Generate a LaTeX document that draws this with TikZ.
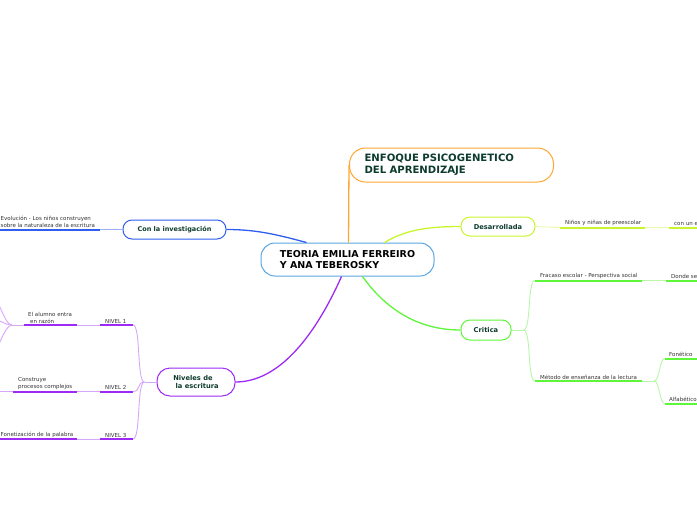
\documentclass[tikz,border=0pt]{standalone}
\usepackage{fontspec}
\setmainfont{DejaVu Sans}
\definecolor{nodetxt}{HTML}{0D3B2E}
\definecolor{leaftxt}{HTML}{333333}
\definecolor{mainblue}{HTML}{5AA5E0}
\definecolor{invblue}{HTML}{2F5EF0}
\definecolor{invlight}{HTML}{9DB3F7}
\definecolor{enforange}{HTML}{FFA630}
\definecolor{desayellow}{HTML}{C9F52F}
\definecolor{desalight}{HTML}{E6FAAA}
\definecolor{crgreen}{HTML}{5EF53A}
\definecolor{crlight}{HTML}{B8F7A8}
\definecolor{nivpurple}{HTML}{9D2BF5}
\definecolor{nivlight}{HTML}{D6A8FA}
\tikzset{
  topic/.style={draw, fill=white, line width=1pt, rounded corners=9pt, align=center,
    text=nodetxt, inner sep=0pt, font=\bfseries\fontsize{6.7}{8}\selectfont},
  leaf/.style={anchor=south west, inner xsep=5pt, inner ysep=1.5pt, align=left,
    text=leaftxt, font=\fontsize{5.5}{7}\selectfont},
  uline/.style={line width=2pt},
  link/.style={line width=0.9pt},
  branch/.style={line width=1.3pt}
}
\begin{document}
\begin{tikzpicture}[x=1pt, y=-1pt]
  \useasboundingbox (0,0) rectangle (697,520);
  % topics
  \node[topic, draw=mainblue, minimum width=173pt, minimum height=33pt, rounded corners=14pt,
    text=black, align=left, font=\bfseries\fontsize{9.5}{11.5}\selectfont] (main) at (347.5,259.5)
    {TEORIA EMILIA FERREIRO\\Y ANA TEBEROSKY};
  \node[topic, draw=enforange, anchor=west, minimum height=34pt, rounded corners=16pt,
    text width=174pt, inner xsep=15pt, align=left, font=\bfseries\fontsize{10.1}{12}\selectfont]
    (enf) at (349,165) {ENFOQUE PSICOGENETICO\\DEL APRENDIZAJE};
  \node[topic, draw=invblue, minimum width=103pt, minimum height=19pt,
    font=\bfseries\fontsize{6.5}{8}\selectfont] (inv) at (174.5,229.5) {Con la investigación};
  \node[topic, draw=desayellow, minimum width=74pt, minimum height=19pt] (desa) at (498,226.5) {Desarrollada};
  \node[topic, draw=crgreen, minimum width=50pt, minimum height=20pt] (crit) at (486,330) {Critica};
  \node[topic, draw=nivpurple, minimum width=78pt, minimum height=28pt, rounded corners=13pt,
    align=left] (niv) at (196,382) {Niveles de\\\ la escritura};

  % from the centre
  \draw[branch, enforange] ([xshift=1pt]main.north) -- (enf.west);
  \draw[branch, invblue] (inv.east) .. controls +(30,0) and +(-30,-8) .. ([xshift=-41pt]main.north);
  \draw[branch, desayellow] ([xshift=37pt]main.north) .. controls +(20,-12) and +(-35,0) .. (desa.west);
  \draw[branch, crgreen] ([xshift=15pt]main.south) .. controls +(25,35) and +(-40,0) .. (crit.west);
  \draw[branch, nivpurple] ([xshift=-6pt]main.south) .. controls +(-20,45) and +(50,0) .. (niv.east);

  % Con la investigacion
  \node[leaf, inner xsep=0.5pt] (evol) at (0,229.5)
    {Evolución - Los niños construyen\\sobre la naturaleza de la escritura};
  \draw[uline, invblue] (evol.south west) -- ++(100,0) coordinate (evol-e);
  \draw[link, invlight] (inv.west) -- (evol-e);

  % Desarrollada
  \node[leaf] (nin) at (560,227.5) {Niños y niñas de preescolar};
  \draw[uline, desayellow] (nin.south west) -- ++(85,0) coordinate (nin-e);
  \node[leaf] (conun) at (669,227.5) {con un e};
  \draw[uline, desayellow] (conun.south west) -- ++(35,0);
  \draw[link, desalight] (desa.east) -- (nin.south west);
  \draw[link, desalight] (nin-e) -- (conun.south west);

  % Critica
  \draw[link, crlight] (crit.east) -- ++(12,0) coordinate (crhub);
  \node[leaf] (fra) at (535,280.5) {Fracaso escolar - Perspectiva social};
  \draw[uline, crgreen] (fra.south west) -- ++(107,0) coordinate (fra-e);
  \node[leaf] (donde) at (666,280.5) {Donde se};
  \draw[uline, crgreen] (donde.south west) -- ++(35,0);
  \draw[link, crlight] (fra-e) -- (donde.south west);
  \node[leaf] (met) at (535,381) {Método de enseñanza de la lectura};
  \draw[uline, crgreen] (met.south west) -- ++(107,0) coordinate (met-e);
  \draw[link, crlight] (crhub) .. controls +(8,0) and +(-8,0) .. (fra.south west);
  \draw[link, crlight] (crhub) .. controls +(8,0) and +(-8,0) .. (met.south west);
  \draw[link, crlight] (met-e) -- ++(12,0) coordinate (methub);
  \node[leaf, inner xsep=4pt] (fon) at (665,358.5) {Fonético};
  \draw[uline, crgreen] (fon.south west) -- ++(35,0);
  \node[leaf, inner xsep=4pt] (alf) at (665,403.5) {Alfabético};
  \draw[uline, crgreen] (alf.south west) -- ++(35,0);
  \draw[link, crlight] (methub) .. controls +(6,0) and +(-6,0) .. (fon.south west);
  \draw[link, crlight] (methub) .. controls +(6,0) and +(-6,0) .. (alf.south west);

  % Niveles de la escritura
  \draw[link, nivlight] (niv.west) -- ++(-12,0) coordinate (nivhub);
  \node[leaf] (n1) at (100,325) {NIVEL 1};
  \draw[uline, nivpurple] (n1.south west) -- ++(33,0) coordinate (n1-e);
  \node[leaf] (n2) at (100,391.5) {NIVEL 2};
  \draw[uline, nivpurple] (n2.south west) -- ++(33,0) coordinate (n2-e);
  \node[leaf] (n3) at (100,439) {NIVEL 3};
  \draw[uline, nivpurple] (n3.south west) -- ++(33,0) coordinate (n3-e);
  \draw[link, nivlight] (nivhub) .. controls +(-8,0) and +(8,0) .. (n1-e);
  \draw[link, nivlight] (nivhub) .. controls +(-8,0) and +(8,0) .. (n2-e);
  \draw[link, nivlight] (nivhub) .. controls +(-8,0) and +(8,0) .. (n3-e);

  \node[leaf, inner xsep=4pt] (alu) at (24,325) {El alumno entra\\\hspace{2pt}en razón};
  \draw[uline, nivpurple] (alu.south west) -- ++(53,0) coordinate (alu-e);
  \draw[link, nivlight] (alu-e) -- (n1.south west);
  \draw[link, nivlight] (alu.south west) -- ++(-12,0) coordinate (aluhub);
  \coordinate (alu-a) at (-10,294);
  \coordinate (alu-b) at (-10,318);
  \coordinate (alu-c) at (-10,354);
  \draw[link, nivlight] (aluhub) .. controls +(-8,0) and +(8,0) .. (alu-a);
  \draw[link, nivlight] (aluhub) .. controls +(-8,0) and +(8,0) .. (alu-b);
  \draw[link, nivlight] (aluhub) .. controls +(-8,0) and +(8,0) .. (alu-c);

  \node[leaf] (cons) at (13,391.5) {Construye\\procesos complejos};
  \draw[uline, nivpurple] (cons.south west) -- ++(64,0) coordinate (cons-e);
  \draw[link, nivlight] (cons-e) -- (n2.south west);
  \coordinate (cons-w) at (-2,391.5);
  \draw[link, nivlight] (cons.south west) -- (cons-w);

  \node[leaf, inner xsep=0.5pt] (fonet) at (0,439) {Fonetización de la palabra};
  \draw[uline, nivpurple] (fonet.south west) -- ++(77,0) coordinate (fonet-e);
  \draw[link, nivlight] (fonet-e) -- (n3.south west);
\end{tikzpicture}
\end{document}
